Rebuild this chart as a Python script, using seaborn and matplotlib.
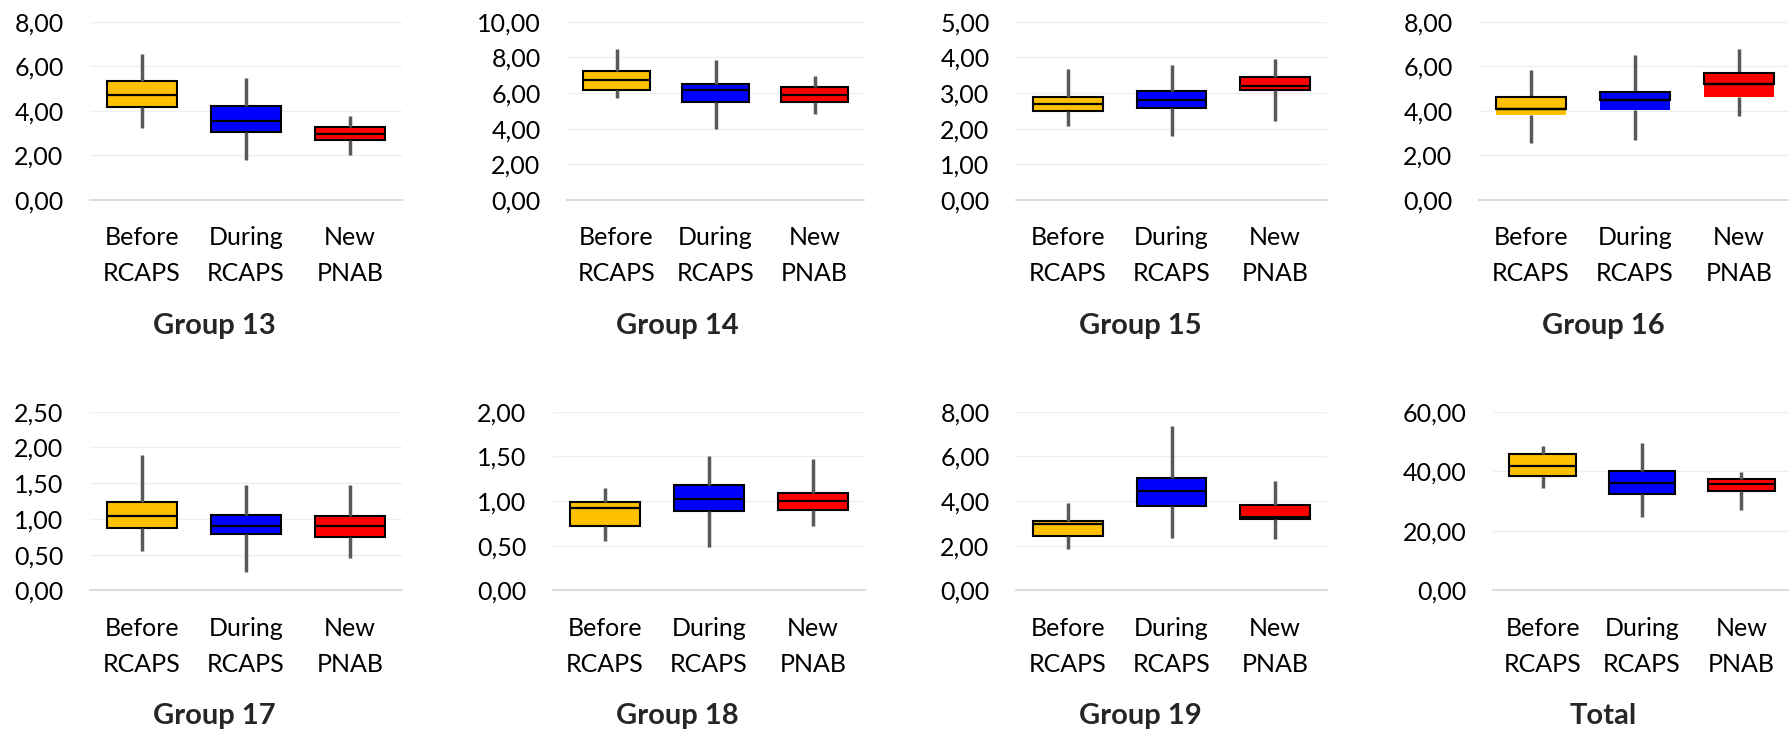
import numpy as np
import pandas as pd
import matplotlib
matplotlib.use("Agg")
import matplotlib.pyplot as plt
import seaborn as sns

categories = ["Before\nRCAPS", "During\nRCAPS", "New\nPNAB"]
colors = ["#FFC000", "#0000FF", "#FF0000"]

# five-number summaries per category: [min, Q1, median, Q3, max]
group13 = [[3.21, 4.17, 4.72, 5.35, 6.53], [1.79, 3.05, 3.56, 4.20, 5.46], [2.00, 2.69, 2.97, 3.27, 3.78]]
group14 = [[5.70, 6.15, 6.73, 7.25, 8.45], [3.96, 5.48, 6.15, 6.52, 7.85], [4.82, 5.48, 5.91, 6.34, 6.95]]
group15 = [[2.07, 2.49, 2.69, 2.89, 3.66], [1.79, 2.59, 2.80, 3.07, 3.79], [2.21, 3.09, 3.20, 3.45, 3.94]]
group16 = [[2.57, 3.80, 4.10, 4.63, 5.84], [2.69, 4.04, 4.50, 4.83, 6.50], [3.78, 4.63, 5.19, 5.68, 6.76]]
group17 = [[0.555, 0.877, 1.035, 1.23, 1.90], [0.26, 0.793, 0.896, 1.054, 1.48], [0.45, 0.75, 0.905, 1.04, 1.48]]
group18 = [[0.549, 0.716, 0.918, 0.989, 1.146], [0.489, 0.884, 1.022, 1.18, 1.50], [0.724, 0.90, 0.996, 1.09, 1.47]]
group19 = [[1.85, 2.45, 2.96, 3.12, 3.91], [2.36, 3.76, 4.45, 5.01, 7.34], [2.31, 3.19, 3.28, 3.82, 4.91]]
total = [[34.3, 38.4, 41.9, 45.7, 48.4], [24.7, 32.5, 35.9, 40.1, 49.6], [26.9, 33.5, 35.6, 37.5, 39.9]]

titles = ["Group 13", "Group 14", "Group 15", "Group 16",
          "Group 17", "Group 18", "Group 19", "Total"]
datasets = [group13, group14, group15, group16, group17, group18, group19, total]
y_max = [8, 10, 5, 8, 2.5, 2, 8, 60]
y_step = [2, 2, 1, 2, 0.5, 0.5, 2, 20]

sns.set_style("white")
plt.rcParams["font.family"] = ["Lato", "DejaVu Sans"]

W, H = 1789, 730
fig = plt.figure(figsize=(W / 100, H / 100), dpi=100)

# layout in pixels
x_ranges = [(90, 402), (567, 864), (1016, 1327), (1479, 1791),
            (90, 402), (553, 865), (1016, 1327), (1493, 1791)]
rows = [(21.7, 200.0), (411.7, 590.3)]
title_x = [214, 677, 1140, 1603]
title_base = [334, 724]
outline_from_median = [False, False, False, True, False, False, False, False]

TICK_FS = 18
TITLE_FS = 21


def style_container(c, box_lw=1.5, hide_edge=False):
    for b in c.boxes:
        if hide_edge:
            b.set_linewidth(0)
            b.set_edgecolor("none")
        else:
            b.set_linewidth(box_lw)
            b.set_edgecolor("black")
    for w in c.whiskers:
        w.set_color("#595959")
        w.set_linewidth(2.5)
        w.set_solid_capstyle("butt")
    for m in c.medians:
        m.set_color("black")
        m.set_linewidth(1.6)


for i, (title, data) in enumerate(zip(titles, datasets)):
    r = i // 4
    top, bottom = rows[r]
    x0, x1 = x_ranges[i]
    ax = fig.add_axes([x0 / W, (H - bottom) / H, (x1 - x0) / W, (bottom - top) / H])

    df = pd.DataFrame({"cat": np.repeat(categories, 5),
                       "value": np.concatenate(data)})
    common = dict(x="cat", y="value", hue="cat", order=categories, hue_order=categories,
                  palette=colors, saturation=1, whis=(0, 100), width=0.67,
                  showcaps=False, showfliers=False, linecolor="black",
                  legend=False, ax=ax)
    n0 = len(ax.containers)
    sns.boxplot(data=df, **common)
    for c in ax.containers[n0:]:
        style_container(c, hide_edge=outline_from_median[i])

    if outline_from_median[i]:
        # Excel-style: outline only spans median..Q3
        upper = [[s[2], s[2], s[2], s[3], s[3]] for s in data]
        df2 = pd.DataFrame({"cat": np.repeat(categories, 5),
                            "value": np.concatenate(upper)})
        n1 = len(ax.containers)
        sns.boxplot(data=df2, **common)
        for c in ax.containers[n1:]:
            style_container(c)

    ax.set_xlim(-0.5, 2.5)
    ax.set_ylim(0, y_max[i])
    ticks = np.arange(0, y_max[i] + y_step[i] / 2, y_step[i])
    ax.set_yticks(ticks)
    ax.set_yticklabels([f"{t:.2f}".replace(".", ",") for t in ticks])
    ax.set_xlabel("")
    ax.set_ylabel("")
    ax.yaxis.grid(True, color="#EFEFEF", linewidth=1.0)
    ax.set_axisbelow(True)
    for s in ["top", "right", "left"]:
        ax.spines[s].set_visible(False)
    ax.spines["bottom"].set_color("#D9D9D9")
    ax.spines["bottom"].set_linewidth(1.3)
    ax.tick_params(axis="both", length=0, labelsize=TICK_FS, colors="black")
    ax.tick_params(axis="y", pad=19)
    ax.tick_params(axis="x", pad=19)
    for lab in ax.get_xticklabels():
        lab.set_linespacing(1.68)

    fig.text(title_x[i % 4] / W, (H - title_base[r]) / H, title,
             ha="center", va="baseline", fontsize=TITLE_FS, fontweight="bold")

fig.savefig("out.png", dpi=100)
